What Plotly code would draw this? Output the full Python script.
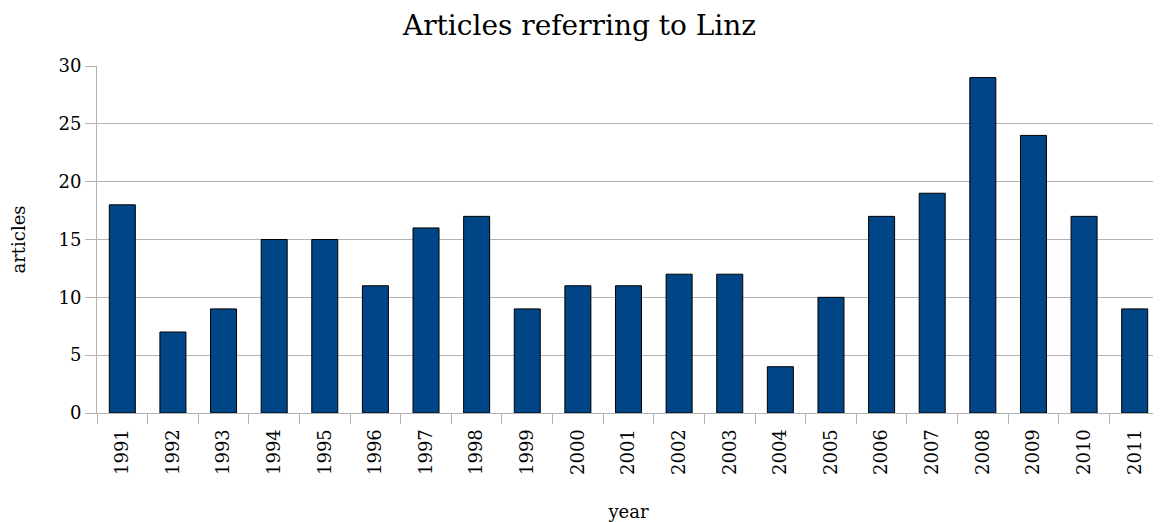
import plotly.graph_objects as go

years = [str(y) for y in range(1991, 2012)]
articles = [18, 7, 9, 15, 15, 11, 16, 17, 9, 11, 11, 12, 12, 4, 10, 17, 19, 29, 24, 17, 9]
y_ticks = [0, 5, 10, 15, 20, 25, 30]

FONT = "DejaVu Serif"
GRID = "#b3b3b3"

fig = go.Figure(go.Bar(
    x=years, y=articles,
    marker=dict(color="#004586", line=dict(color="#000000", width=1)),
))

# page body has an 8px margin, so the figure is drawn 8px smaller
fig.update_layout(
    width=1153, height=514,
    margin=dict(l=89, r=1, t=58, b=109, autoexpand=False),
    paper_bgcolor="white", plot_bgcolor="white",
    bargap=0.486,
    showlegend=False,
    font=dict(family=FONT, color="#000000", size=18),
    title=dict(text="Articles referring to Linz", x=0.4957, xanchor="center",
               xref="container",
               y=0.985, yanchor="top", font=dict(family=FONT, size=28)),
)
fig.update_xaxes(
    type="category", tickangle=-90, tickson="boundaries",
    ticks="outside", ticklen=10, tickcolor=GRID,
    ticklabelstandoff=8,
    showline=True, linecolor=GRID, linewidth=1,
    showgrid=False, automargin=False,
    title=dict(text="year", font=dict(size=18), standoff=32),
)
fig.update_yaxes(
    range=[0, 30], tickvals=y_ticks,
    ticks="outside", ticklen=11, tickcolor=GRID,
    showline=True, linecolor=GRID, linewidth=1,
    showgrid=True, gridcolor=GRID, gridwidth=1,
    zeroline=False, automargin=False,
    title=dict(text="articles", font=dict(size=18), standoff=34),
)

fig.write_html("out.html")
